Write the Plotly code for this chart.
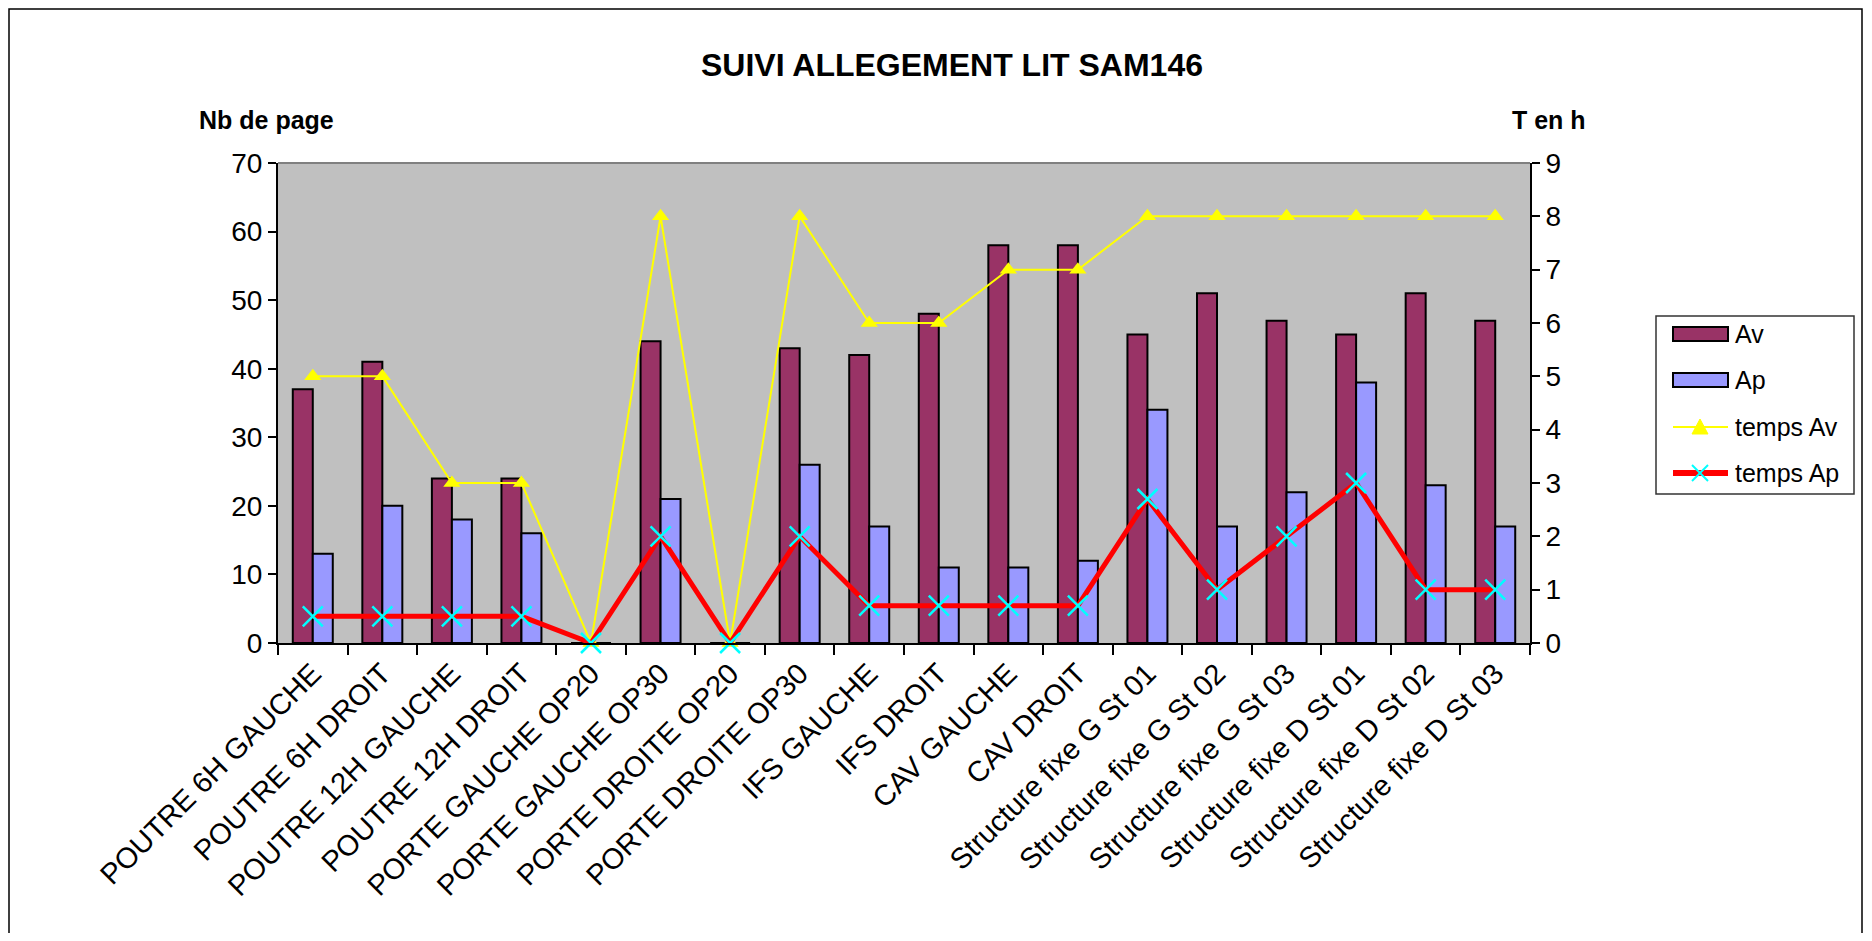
import plotly.graph_objects as go

categories = [
    "POUTRE 6H GAUCHE", "POUTRE 6H DROIT", "POUTRE 12H GAUCHE", "POUTRE 12H DROIT",
    "PORTE GAUCHE OP20", "PORTE GAUCHE OP30", "PORTE DROITE OP20", "PORTE DROITE OP30",
    "IFS GAUCHE", "IFS DROIT", "CAV GAUCHE", "CAV DROIT",
    "Structure fixe G St 01", "Structure fixe G St 02", "Structure fixe G St 03",
    "Structure fixe D St 01", "Structure fixe D St 02", "Structure fixe D St 03",
]
pages_av = [37, 41, 24, 24, 0, 44, 0, 43, 42, 48, 58, 58, 45, 51, 47, 45, 51, 47]
pages_ap = [13, 20, 18, 16, 0, 21, 0, 26, 17, 11, 11, 12, 34, 17, 22, 38, 23, 17]
temps_av = [5, 5, 3, 3, 0, 8, 0, 8, 6, 6, 7, 7, 8, 8, 8, 8, 8, 8]
temps_ap = [0.5, 0.5, 0.5, 0.5, 0, 2, 0, 2, 0.7, 0.7, 0.7, 0.7, 2.7, 1, 2, 3, 1, 1]
y_ticks_left = [0, 10, 20, 30, 40, 50, 60, 70]
y_ticks_right = [0, 1, 2, 3, 4, 5, 6, 7, 8, 9]
series_names = ["Av", "Ap", "temps Av", "temps Ap"]

FONT = "Arial, Liberation Sans, sans-serif"
C_AV, C_AP, C_TAV, C_TAP, C_MK = "#993366", "#9999FF", "#FFFF00", "#FF0000", "#00FFFF"
W, H = 1856, 925
L, R, T, B = 270, 334, 155, 290
PW, PH = W - L - R, H - T - B


def px_x(x):
    return (x - L) / PW


def px_y(y):
    return (H - B - y) / PH


fig = go.Figure()
fig.add_trace(go.Bar(x=categories, y=pages_av, name=series_names[0], showlegend=False,
                     marker=dict(color=C_AV, line=dict(color="black", width=2))))
fig.add_trace(go.Bar(x=categories, y=pages_ap, name=series_names[1], showlegend=False,
                     marker=dict(color=C_AP, line=dict(color="black", width=2))))
fig.add_trace(go.Scatter(x=categories, y=temps_av, name=series_names[2], yaxis="y2",
                         showlegend=False, mode="lines+markers", cliponaxis=False,
                         line=dict(color=C_TAV, width=2),
                         marker=dict(symbol="triangle-up", size=15, color=C_TAV)))
fig.add_trace(go.Scatter(x=categories, y=temps_ap, name=series_names[3], yaxis="y2",
                         showlegend=False, mode="lines+markers", cliponaxis=False,
                         line=dict(color=C_TAP, width=5),
                         marker=dict(symbol="x-thin", size=20, color=C_MK,
                                     line=dict(color=C_MK, width=2.5))))

fig.update_layout(
    width=W, height=H,
    margin=dict(l=L, r=R, t=T, b=B, autoexpand=False),
    paper_bgcolor="white", plot_bgcolor="#C0C0C0",
    font=dict(family=FONT, color="black", size=24),
    barmode="group", bargap=0.425, bargroupgap=0,
    title=dict(text="<b>SUIVI ALLEGEMENT LIT SAM146</b>", xref="container", x=944 / W,
               xanchor="center", y=1 - 57 / H, yanchor="middle",
               font=dict(size=32, family=FONT)),
    xaxis=dict(type="category", range=[-0.5, len(categories) - 0.5],
               tickangle=-45, tickfont=dict(size=29),
               showline=True, linecolor="black", linewidth=2,
               ticks="outside", ticklen=10, tickwidth=1.5, tickcolor="black",
               tickson="boundaries", showgrid=False),
    yaxis=dict(range=[0, 70], tickvals=y_ticks_left, tickfont=dict(size=28),
               showline=True, linecolor="black", linewidth=2,
               ticks="outside", ticklen=8, tickwidth=1.5, tickcolor="black",
               showgrid=False, zeroline=False),
    yaxis2=dict(range=[0, 9], tickvals=y_ticks_right, overlaying="y", side="right",
                tickfont=dict(size=28),
                showline=True, linecolor="black", linewidth=2,
                ticks="outside", ticklen=8, tickwidth=1.5, tickcolor="black",
                showgrid=False, zeroline=False),
    showlegend=False,
)

fig.add_annotation(text="<b>Nb de page</b>", xref="paper", yref="paper",
                   x=px_x(189), y=px_y(112), xanchor="left", yanchor="middle",
                   showarrow=False, font=dict(size=25, family=FONT))
fig.add_annotation(text="<b>T en h</b>", xref="paper", yref="paper",
                   x=px_x(1541), y=px_y(112), xanchor="center", yanchor="middle",
                   showarrow=False, font=dict(size=25, family=FONT))

# top border of the plot area
fig.add_shape(type="line", xref="paper", yref="paper", x0=0, x1=1, y0=1, y1=1,
              line=dict(color="#808080", width=2))
# outer chart frame
fig.add_shape(type="rect", xref="paper", yref="paper",
              x0=px_x(1), x1=px_x(1854), y0=px_y(1), y1=px_y(H + 5),
              line=dict(color="black", width=1.5), fillcolor="rgba(0,0,0,0)", layer="above")

# ---- custom legend (Excel style) ----
LX0, LX1, LY0, LY1 = 1648, 1846, 308, 486
fig.add_shape(type="rect", xref="paper", yref="paper",
              x0=px_x(LX0), x1=px_x(LX1), y0=px_y(LY0), y1=px_y(LY1),
              line=dict(color="#333333", width=1.5), fillcolor="white", layer="above")
SX0, SX1, SXC = 1665, 1720, 1692
rows_y = [326, 372, 419, 465]
for yy, col in zip(rows_y[:2], [C_AV, C_AP]):
    fig.add_shape(type="rect", xref="paper", yref="paper",
                  x0=px_x(SX0), x1=px_x(SX1), y0=px_y(yy - 7), y1=px_y(yy + 7),
                  line=dict(color="black", width=2), fillcolor=col, layer="above")
# temps Av sample
fig.add_shape(type="line", xref="paper", yref="paper",
              x0=px_x(SX0), x1=px_x(SX1), y0=px_y(rows_y[2]), y1=px_y(rows_y[2]),
              line=dict(color=C_TAV, width=2), layer="above")
tri = "M {},{} L {},{} L {},{} Z".format(
    px_x(SXC - 8), px_y(rows_y[2] + 7), px_x(SXC + 8), px_y(rows_y[2] + 7),
    px_x(SXC), px_y(rows_y[2] - 8))
fig.add_shape(type="path", xref="paper", yref="paper", path=tri,
              line=dict(color=C_TAV, width=1), fillcolor=C_TAV, layer="above")
# temps Ap sample
fig.add_shape(type="line", xref="paper", yref="paper",
              x0=px_x(SX0), x1=px_x(SX1), y0=px_y(rows_y[3]), y1=px_y(rows_y[3]),
              line=dict(color=C_TAP, width=6), layer="above")
for d in (1, -1):
    fig.add_shape(type="line", xref="paper", yref="paper",
                  x0=px_x(SXC - 8), x1=px_x(SXC + 8),
                  y0=px_y(rows_y[3] - 8 * d), y1=px_y(rows_y[3] + 8 * d),
                  line=dict(color=C_MK, width=2), layer="above")
for yy, name in zip(rows_y, series_names):
    fig.add_annotation(text=name, xref="paper", yref="paper",
                       x=px_x(1725), y=px_y(yy), xanchor="left", yanchor="middle",
                       showarrow=False, font=dict(size=25, family=FONT))

fig.write_html("out.html")
